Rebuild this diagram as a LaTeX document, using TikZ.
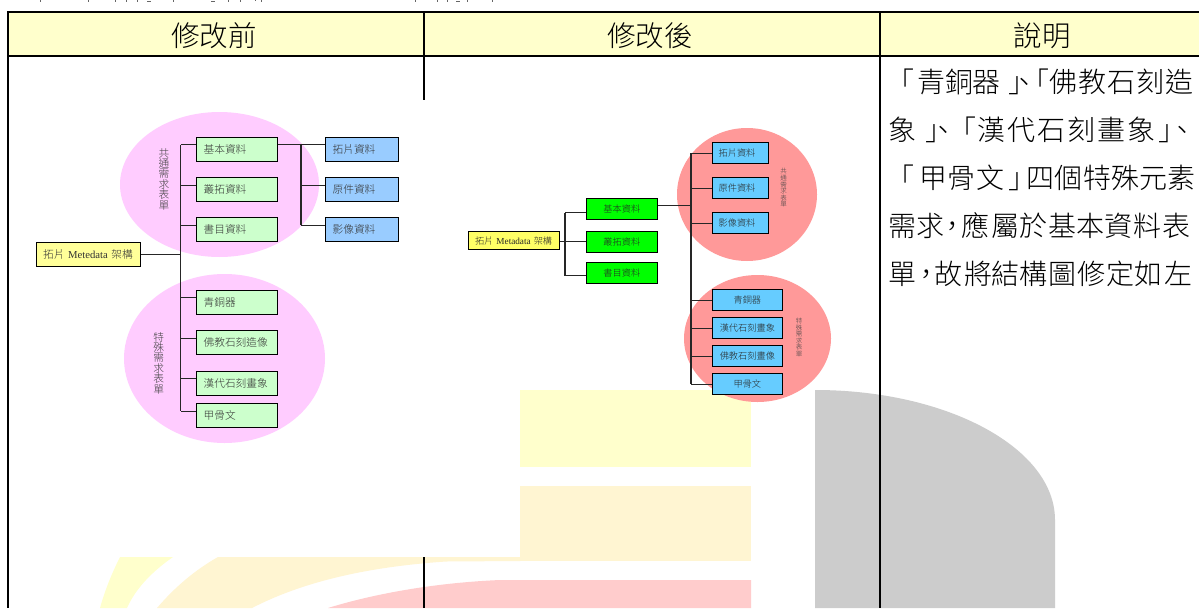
\documentclass[tikz,border=0pt]{standalone}
\usepackage{fontspec}
\setmainfont{Noto Sans CJK TC}[UprightFont={* Light}]
\newfontfamily\latf{Liberation Serif}
\newcommand{\fs}[1]{\fontsize{#1}{#1}\selectfont}
\newcommand{\gl}[2]{\makebox[0pt][l]{\kern#1pt #2}}
\definecolor{hdr}{HTML}{FFFFCC}
\definecolor{wmo}{HTML}{FFF5D2}
\definecolor{wmp}{HTML}{FFCCCC}
\definecolor{wmg}{HTML}{CCCCCC}
\definecolor{pinkell}{HTML}{FFCCFF}
\definecolor{redell}{HTML}{FF9999}
\definecolor{paleg}{HTML}{CCFFCC}
\definecolor{paleb}{HTML}{99CCFF}
\definecolor{paley}{HTML}{FFFF99}
\definecolor{strongy}{HTML}{FFFF66}
\definecolor{strongg}{HTML}{00FF00}
\definecolor{strongb}{HTML}{66CCFF}
\tikzset{
 rule/.style={line width=2pt,black},
 wire/.style={line width=1.1pt,black!85},
 hdrtext/.style={font=\fs{28.5},inner sep=0pt},
 para/.style={font=\fs{28},inner sep=0pt,anchor=base west},
 lbox/.style={draw=black,line width=1.2pt,anchor=north west,inner xsep=7pt,inner ysep=0pt,align=left,font=\fs{10.7},text=black!80,minimum height=24pt},
 rbox/.style={draw=black,line width=1.2pt,anchor=north west,inner xsep=0pt,inner ysep=0pt,align=center,font=\fs{9.2},text=black!85,minimum height=21pt},
 vtext/.style={inner sep=0pt,align=center,text=black!75},
}
\begin{document}
\begin{tikzpicture}[x=1pt,y=-1pt]
\useasboundingbox (0,0) rectangle (1199,608);
\fill[white] (0,0) rectangle (1199,608);
% watermark
\begin{scope}
\clip (0,0) rectangle (1199,608);
\fill[hdr] (520,390) rectangle (751,467);
\fill[wmo] (520,486) rectangle (751,561);
\fill[hdr] (120,557) -- (173,557) .. controls (150,573) and (135,590) .. (127,608) -- (100,608) .. controls (105,590) and (112,573) .. (120,557) -- cycle;
\fill[wmo] (218,557) -- (520,557) -- (520,561) -- (446,561.5) .. controls (380,566) and (310,578) .. (252,608) -- (157,608) .. controls (175,587) and (195,570) .. (218,557) -- cycle;
\fill[wmp] (328,608) .. controls (370,595) and (430,583) .. (500,580) -- (751,580) -- (751,608) -- cycle;
\fill[wmg] (815,390) arc[start angle=-90,end angle=0,x radius=240,y radius=130] -- (1055,608) -- (815,608) -- cycle;
\end{scope}
% table
\fill[hdr] (9,13) rectangle (1199,55);
\draw[rule] (7,12) -- (1199,12);
\draw[rule] (7,56) -- (1199,56);
\draw[rule] (8,11) -- (8,608);
\draw[rule] (424,12) -- (424,100);
\draw[rule] (424,557) -- (424,608);
\draw[rule] (880,12) -- (880,608);
\node[hdrtext] (h1) at (214,36) {修改前};
\node[hdrtext] (h2) at (650,36) {修改後};
\node[hdrtext] (h3) at (1042,36) {說明};
% clipped line of text at the very top edge of the page
\draw[line width=1pt,black!60] (40,0)--(40,2) (88,0)--(88,2) (115,0)--(115,2) (126,0)--(126,2) (137,0)--(137,2)
 (147,1)--(151,1) (173,0)--(173,2) (211,1)--(215,1) (228,0)--(228,2) (240,0)--(240,2) (255,0)--(255,1) (261,0)--(261,2)
 (415,0)--(415,2) (437,0)--(437,2) (447,0)--(447,2) (456,1)--(460,1) (467,0)--(467,2) (492,0)--(492,2);
% explanation text
\node[para] (p1) at (888,92) {\gl{-2}{「}\gl{29}{青}\gl{57}{銅}\gl{84}{器}\gl{120}{」}\gl{122}{、}\gl{133}{「}\gl{161}{佛}\gl{190}{教}\gl{219}{石}\gl{248}{刻}\gl{277}{造}};
\node[para] (p2) at (888,140) {\gl{0}{象}\gl{37}{」}\gl{41}{、}\gl{60}{「}\gl{89}{漢}\gl{119}{代}\gl{149}{石}\gl{179}{刻}\gl{209}{畫}\gl{239}{象}\gl{270}{」}\gl{280}{、}};
\node[para] (p3) at (888,188) {\gl{-2}{「}\gl{31}{甲}\gl{59}{骨}\gl{88}{文}\gl{120}{」}\gl{138}{四}\gl{166}{個}\gl{195}{特}\gl{223}{殊}\gl{251}{元}\gl{279}{素}};
\node[para] (p4) at (888,236) {\gl{0}{需}\gl{28}{求}\gl{50}{，}\gl{73}{應}\gl{103}{屬}\gl{131}{於}\gl{160}{基}\gl{188}{本}\gl{216}{資}\gl{245}{料}\gl{274}{表}};
\node[para] (p5) at (888,284) {\gl{0}{單}\gl{24}{，}\gl{46}{故}\gl{76}{將}\gl{103}{結}\gl{131}{構}\gl{160}{圖}\gl{189}{修}\gl{218}{定}\gl{246}{如}\gl{276}{左}};
% left diagram
\fill[pinkell] (219.5,184.5) ellipse[x radius=99.5,y radius=72.5];
\fill[pinkell] (224.5,358.5) ellipse[x radius=100.5,y radius=84.5];
\node[vtext,font=\fs{10.7}] (lv1) at (164,179) {共\\[-0.3pt]通\\[-0.3pt]需\\[-0.3pt]求\\[-0.3pt]表\\[-0.3pt]單};
\node[vtext,font=\fs{10.7}] (lv2) at (158.7,363) {特\\[-0.3pt]殊\\[-0.3pt]需\\[-0.3pt]求\\[-0.3pt]表\\[-0.3pt]單};
\tikzset{lg/.style={lbox,fill=paleg,text width=66.5pt,minimum width=80.5pt},lb/.style={lbox,fill=paleb,text width=58.5pt,minimum width=72.5pt}}
\node[lbox,fill=paley,text width=90pt,minimum width=104pt] (lroot) at (35.5,241.5) {拓片 {\latf Metedata} 架構};
\node[lg] (la) at (196,136.5) {基本資料};
\node[lg] (lbb) at (196,177) {叢拓資料};
\node[lg] (lc) at (196,217) {書目資料};
\node[lb] (lx) at (325,136.5) {拓片資料};
\node[lb] (ly) at (325,177) {原件資料};
\node[lb] (lz) at (325,217) {影像資料};
\node[lg] (le) at (196,289.5) {青銅器};
\node[lg] (lf) at (196,330) {佛教石刻造像};
\node[lg] (lg1) at (196,370.5) {漢代石刻畫象};
\node[lg] (lh) at (196,403) {甲骨文};
\coordinate (ltrunk) at (180.5,0);
\coordinate (ltrunk2) at (301,0);
\foreach \n in {la,lbb,lc,le,lf,lg1,lh}{
  \coordinate (\n-s) at ([yshift=4.5pt]\n.west);
  \draw[wire] (\n-s) -- (\n-s -| ltrunk);
}
\foreach \n in {lx,ly,lz}{
  \coordinate (\n-s) at ([yshift=4.5pt]\n.west);
  \draw[wire] (\n-s) -- (\n-s -| ltrunk2);
}
\draw[wire] (la-s -| ltrunk) -- (lh-s -| ltrunk);
\draw[wire] (lx-s -| ltrunk2) -- (lz-s -| ltrunk2);
\draw[wire] (lroot.east) -- (lroot.east -| ltrunk);
\draw[wire] (la.east |- lx-s) -- (lx-s);
% right diagram
\fill[redell] (747,194.5) ellipse[x radius=70,y radius=66.5];
\fill[redell] (757.5,338.5) ellipse[x radius=73.5,y radius=63.5];
\node[vtext,font=\fs{6.5}] (rv1) at (783.6,188) {共\\[0.1pt]通\\[0.1pt]需\\[0.1pt]求\\[0.1pt]表\\[0.1pt]單};
\node[vtext,font=\fs{6.5}] (rv2) at (799,337.5) {特\\[0.1pt]殊\\[0.1pt]需\\[0.1pt]求\\[0.1pt]表\\[0.1pt]單};
\tikzset{rg/.style={rbox,fill=strongg,text width=70.5pt,minimum width=70.5pt},
 rb/.style={rbox,fill=strongb,inner xsep=6pt,align=left,text width=43.5pt,minimum width=55.5pt},
 rc/.style={rbox,fill=strongb,text width=69.5pt,minimum width=69.5pt}}
\node[rbox,fill=strongy,text width=91pt,minimum width=91pt,minimum height=18pt] (rroot) at (467.5,231) {拓片 {\latf Metadata} 架構};
\node[rg] (ra) at (586,198) {基本資料};
\node[rg] (rbb) at (586,230.5) {叢拓資料};
\node[rg] (rcc) at (586,261.5) {書目資料};
\node[rb] (rx) at (712,142) {拓片資料};
\node[rb] (ry) at (712,177) {原件資料};
\node[rb] (rz) at (712,212) {影像資料};
\node[rc] (re) at (712,289) {青銅器};
\node[rc] (rf) at (712,317) {漢代石刻畫象};
\node[rc] (rg1) at (712,345) {佛教石刻畫像};
\node[rc] (rh) at (712,373) {甲骨文};
\coordinate (rtrunk) at (565,0);
\coordinate (rtrunk2) at (691,0);
\coordinate (ra-s) at ([yshift=-3.5pt]ra.west);
\coordinate (rbb-s) at (rbb.west);
\coordinate (rcc-s) at ([yshift=-3pt]rcc.west);
\foreach \n in {ra,rbb,rcc}{\draw[wire] (\n-s) -- (\n-s -| rtrunk);}
\draw[wire] (ra-s -| rtrunk) -- (rcc-s -| rtrunk);
\draw[wire] (rroot.east |- rbb-s) -- (rbb-s -| rtrunk);
\foreach \n in {rx,ry,rz,re,rf,rg1,rh}{
  \coordinate (\n-s) at (\n.west);
  \draw[wire] (\n-s) -- (\n-s -| rtrunk2);
}
\draw[wire] (rx-s -| rtrunk2) -- (rh-s -| rtrunk2);
\coordinate (ra-o) at ([yshift=3.5pt]ra.east);
\draw[wire] (ra-o) -- (ra-o -| rtrunk2);
\end{tikzpicture}
\end{document}
